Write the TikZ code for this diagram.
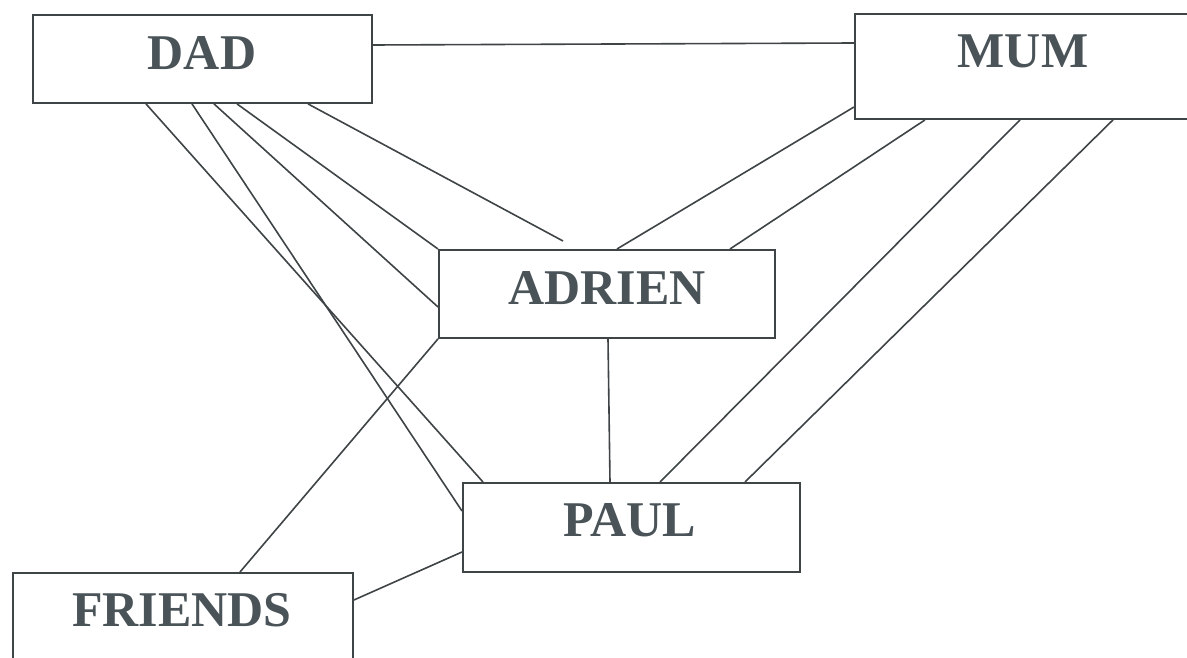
\documentclass[tikz,border=0pt]{standalone}
\usepackage{fontspec}
\setmainfont{Liberation Serif}
\begin{document}
\begin{tikzpicture}[x=1pt,y=-1pt,
  box/.style={draw=linec, line width=1.9pt, rectangle, inner sep=0pt, anchor=north west},
  lbl/.style={inner sep=0pt, text=textc, font=\fontsize{50}{50}\selectfont\bfseries},
  conn/.style={draw=linec, line width=1.6pt}]
\definecolor{linec}{HTML}{3F4447}
\definecolor{textc}{HTML}{4A5358}
\useasboundingbox (0,0) rectangle (1187,658);
\clip (0,0) rectangle (1187,658);
\fill[white] (0,0) rectangle (1187,658);
% boxes
\node[box, minimum width=339pt, minimum height=88pt] (dad) at (32,14) {};
\node[box, minimum width=345pt, minimum height=105pt] (mum) at (854,13) {};
\node[box, minimum width=336pt, minimum height=88pt] (adrien) at (438,249) {};
\node[box, minimum width=337pt, minimum height=89pt] (paul) at (462,482) {};
\node[box, minimum width=340pt, minimum height=110pt] (friends) at (12,572) {};
% labels
\node[lbl] (dadt) at (202,53) {DAD};
\node[lbl] (mumt) at (1023,51) {MUM};
\node[lbl] (adrient) at (607,288) {ADRIEN};
\node[lbl] (pault) at (630,520) {PAUL};
\node[lbl] (friendst) at (182,610) {FRIENDS};
\coordinate (dadend) at (563,241);
% connectors
\draw[conn] ([yshift=-31pt]dad.north east) -- ([yshift=-30pt]mum.north west);
\draw[conn] ([xshift=114pt]dad.south west) -- ([xshift=21pt]paul.north west);
\draw[conn] ([xshift=160pt]dad.south west) -- ([yshift=-29pt]paul.north west);
\draw[conn] ([xshift=182pt]dad.south west) -- ([yshift=-58pt]adrien.north west);
\draw[conn] ([xshift=205pt]dad.south west) -- (adrien.north west);
\draw[conn] ([xshift=276pt]dad.south west) -- (dadend);
\draw[conn] ([yshift=-94pt]mum.north west) -- ([xshift=179pt]adrien.north west);
\draw[conn] ([xshift=71pt]mum.south west) -- ([xshift=292pt]adrien.north west);
\draw[conn] ([xshift=166pt]mum.south west) -- ([xshift=198pt]paul.north west);
\draw[conn] ([xshift=259pt]mum.south west) -- ([xshift=283pt]paul.north west);
\draw[conn] ([xshift=170pt]adrien.south west) -- ([xshift=148pt]paul.north west);
\draw[conn] (adrien.south west) -- ([xshift=228pt]friends.north west);
\draw[conn] ([yshift=-70pt]paul.north west) -- ([yshift=-28pt]friends.north east);
\end{tikzpicture}
\end{document}
